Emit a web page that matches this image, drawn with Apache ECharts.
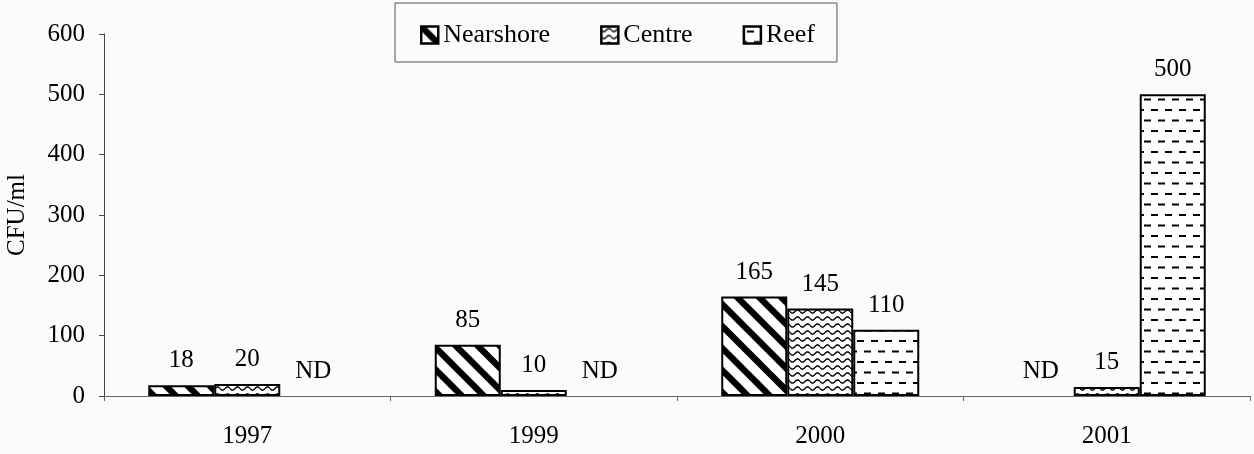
<!DOCTYPE html>
<html>
<head>
<meta charset="utf-8">
<script src="https://cdn.jsdelivr.net/npm/echarts@6/dist/echarts.min.js"></script>
<style>
html,body{margin:0;padding:0;background:#fbfbf9;}
#chart{width:1254px;height:454px;}
</style>
</head>
<body>
<div id="chart"></div>
<script>
// ---- data ----
const years = ['1997', '1999', '2000', '2001'];
const seriesNames = ['Nearshore', 'Centre', 'Reef'];
const nearshore = [18, 85, 165, null];   // null = ND (not detected)
const centre = [20, 10, 145, 15];
const reef = [null, null, 110, 500];
const yTicks = [0, 100, 200, 300, 400, 500, 600];

// ---- patterns ----
function makeCanvas(w, h, draw) {
  const c = document.createElement('canvas');
  c.width = w; c.height = h;
  const g = c.getContext('2d');
  g.fillStyle = '#ffffff';
  g.fillRect(0, 0, w, h);
  g.strokeStyle = '#000000';
  draw(g, w, h);
  return c;
}
const diag = makeCanvas(22, 22, function (g, w, h) {
  g.lineWidth = 6.5;
  g.lineCap = 'butt';
  [-w, 0, w].forEach(function (k) {
    g.beginPath();
    g.moveTo(k - 2, -2);
    g.lineTo(k + w + 2, h + 2);
    g.stroke();
  });
});
const wave = makeCanvas(10, 7, function (g, w, h) {
  g.lineWidth = 1.4;
  g.beginPath();
  for (let x = 0; x <= w; x += 0.5) {
    const y = 3.5 + 1.6 * Math.sin(2 * Math.PI * x / w);
    if (x === 0) g.moveTo(x, y); else g.lineTo(x, y);
  }
  g.stroke();
});
const dash = makeCanvas(14, 21, function (g, w, h) {
  g.lineWidth = 2.2;
  g.beginPath();
  g.moveTo(3, 5); g.lineTo(10, 5);
  g.moveTo(10, 15.5); g.lineTo(14, 15.5);
  g.moveTo(0, 15.5); g.lineTo(3, 15.5);
  g.stroke();
});
const patterns = [diag, wave, dash];

const FONT = '"Liberation Serif", "Times New Roman", serif';
const chart = echarts.init(document.getElementById('chart'), null, {renderer: 'canvas'});

function buildData(arr) {
  return arr.map(function (v) {
    if (v === null) {
      return {value: 0,
              itemStyle: {color: 'rgba(0,0,0,0)', borderWidth: 0},
              label: {formatter: 'ND'}};
    }
    return {value: v};
  });
}

const dataSets = [nearshore, centre, reef];
const series = seriesNames.map(function (name, i) {
  return {
    name: name,
    type: 'bar',
    barWidth: 66,
    barGap: '0%',
    data: buildData(dataSets[i]),
    itemStyle: {
      color: {image: patterns[i], repeat: 'repeat'},
      borderColor: '#000',
      borderWidth: 2
    },
    label: {
      show: true,
      position: 'top',
      distance: 12,
      color: '#000',
      fontFamily: FONT,
      fontSize: 25
    }
  };
});

chart.setOption({
  backgroundColor: '#fbfbf9',
  animation: false,
  legend: {
    data: seriesNames,
    left: 395,
    top: 3,
    padding: [19, 22, 14, 25],
    itemGap: 50,
    itemWidth: 17,
    itemHeight: 17,
    icon: 'rect',
    borderColor: '#555',
    borderWidth: 1,
    textStyle: {fontFamily: FONT, fontSize: 26, color: '#000'},
    itemStyle: {borderColor: '#000', borderWidth: 2.5}
  },
  grid: {left: 104, top: 34, width: 1146, height: 362, containLabel: false, outerBoundsMode: 'none'},
  xAxis: {
    type: 'category',
    data: years,
    axisLine: {lineStyle: {color: '#666', width: 1}},
    axisTick: {show: true, length: 5, lineStyle: {color: '#666'}},
    axisLabel: {fontFamily: FONT, fontSize: 25, color: '#000', margin: 28}
  },
  yAxis: {
    type: 'value',
    min: yTicks[0],
    max: yTicks[yTicks.length - 1],
    interval: yTicks[1] - yTicks[0],
    name: 'CFU/ml',
    nameLocation: 'middle',
    nameRotate: 90,
    nameGap: 74,
    nameTextStyle: {fontFamily: FONT, fontSize: 25, color: '#000'},
    axisLine: {show: true, lineStyle: {color: '#444', width: 1}},
    axisTick: {show: true, length: 5, lineStyle: {color: '#444'}},
    splitLine: {show: false},
    axisLabel: {fontFamily: FONT, fontSize: 25, color: '#000', margin: 19}
  },
  series: series
});
</script>
</body>
</html>
